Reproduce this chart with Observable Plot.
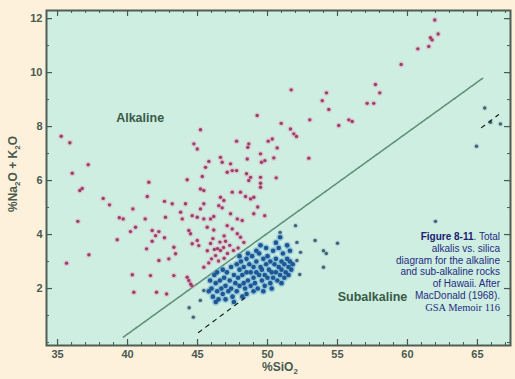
<!DOCTYPE html>
<html>
<head>
<meta charset="utf-8">
<script src="https://cdn.jsdelivr.net/npm/d3@7"></script>
<script src="https://cdn.jsdelivr.net/npm/@observablehq/plot@0.6"></script>
<style>
  html, body { margin: 0; padding: 0; background: #fdf1dc; }
  #wrap { position: relative; width: 515px; height: 379px; overflow: hidden; font-family: "Liberation Sans", Arial, sans-serif; }
  #chart svg { display: block; }
  .axt { position: absolute; color: #4a5a50; font-weight: bold; font-size: 12px; white-space: nowrap; }
  .axt sub { font-size: 8px; }
  #ylab { left: 14px; top: 174px; transform: translate(-50%, -50%) rotate(-90deg); }
  #xlab { left: 280px; top: 368px; transform: translate(-50%, -50%); }
  #caption { position: absolute; right: 15px; top: 231px; text-align: right; color: #262a84; font-size: 10px; line-height: 11.8px; }
  #caption b { color: #1c2070; }
  #caption .serif { font-family: "Liberation Serif", "Times New Roman", serif; font-size: 10.5px; }
</style>
</head>
<body>
<div id="wrap">
  <div id="chart"></div>
  <div id="ylab" class="axt">%Na<sub>2</sub>O + K<sub>2</sub>O</div>
  <div id="xlab" class="axt">%SiO<sub>2</sub></div>
  <div id="caption"><b>Figure 8-11</b>. Total<br>alkalis vs. silica<br>diagram for the alkaline<br>and sub-alkaline rocks<br>of Hawaii. After<br>MacDonald (1968).<br><span class="serif">GSA Memoir 116</span></div>
</div>
<script>
// ---- data (SiO2 %, Na2O+K2O %) ----
const alkaline = [
  [35.26,7.64],[35.88,7.40],[37.19,6.59],[36.05,6.27],[36.76,5.71],[36.59,5.63],[41.52,5.94],[41.41,5.41],
  [38.26,5.34],[38.71,5.10],[42.64,5.23],[40.38,4.95],[42.71,4.64],[36.45,4.49],[39.41,4.62],[39.69,4.58],
  [41.26,4.58],[40.57,4.27],[40.21,4.11],[41.76,4.15],[42.24,4.11],[42.0,3.96],[41.76,3.75],[42.64,3.88],
  [39.26,3.81],[41.36,3.47],[37.24,3.25],[35.64,2.94],[42.24,3.04],[42.95,3.10],[40.34,2.51],[41.64,2.48],
  [40.45,1.86],[42.07,1.86],[42.79,1.80],[43.31,2.48],[43.43,3.29],[43.19,5.14],[43.79,4.83],[44.14,5.14],
  [44.62,4.70],[44.38,4.15],[44.62,3.66],[45.21,4.95],[45.45,4.58],[44.38,2.30],[44.6,2.10],
  [51.69,9.36],[54.21,9.25],[53.91,8.96],[54.38,8.63],[57.71,9.56],[58.02,9.25],[57.12,8.86],[57.59,8.86],
  [59.55,10.30],[53.02,8.25],[50.98,8.12],[55.81,8.25],[56.05,8.19],[55.09,8.04],[51.64,7.91],[51.88,7.73],
  [52.07,7.63],[50.34,7.54],[50.69,7.21],[50.45,6.84],[52.95,6.83],[50.62,6.10],[61.95,11.95],[62.19,11.43],
  [61.64,11.29],[61.76,11.21],[60.74,10.88],[61.52,10.97],[49.26,8.41],[50.05,7.46],[49.5,6.99],[49.57,6.68],
  [49.81,6.74],[49.5,6.12],[49.5,5.90],[45.21,7.88],[44.74,7.36],[44.98,7.17],[47.79,7.46],[48.66,7.36],
  [48.59,7.23],[46.64,6.86],[46.76,6.68],[45.81,6.71],[45.57,6.49],[48.55,6.80],[47.12,6.31],[47.48,6.37],
  [47.79,6.37],[48.5,6.25],[48.79,6.12],[48.66,6.0],[45.34,6.15],[44.26,6.03],[49.5,5.75],[45.21,5.69],
  [45.45,5.63],[46.64,5.38],[46.88,5.26],[46.52,5.07],[46.76,4.99],[47.48,5.57],[48.07,5.57],[48.43,5.41],
  [48.79,5.32],[49.02,5.38],[45.45,5.14],[43.91,4.58],[44.98,4.64],[45.93,4.58],[46.16,4.67],[47.36,4.77],
  [47.84,4.58],[48.19,4.52],[49.02,4.77],[44.5,4.03],[45.69,4.27],[46.16,4.17],[47.12,4.33],[47.48,4.21],
  [43.31,3.53],[45.93,3.67],[46.43,3.48],[46.64,3.41],[46.86,3.52],[47.14,3.30],[46.29,3.22],[47.57,3.41],
  [44.98,3.78],[45.09,3.59],[48.07,3.90],[48.31,3.71],[45.45,2.79],[44.26,2.42],[44.5,2.17],[47.84,4.03],
  [46.0,3.10],[46.9,3.12],[47.3,3.60],[46.6,3.72],[47.9,3.50],[47.36,6.62],[49.3,5.02],[49.8,4.70],
  [46.2,3.45],[46.5,3.02],[47.0,3.75],[45.7,3.40],[46.1,3.85],[46.9,3.95],[45.8,2.95]
];
const subalkalineCluster = [
  [45.9,2.3],[46.0,2.0],[46.1,1.7],[46.2,2.5],[46.3,2.2],[46.4,1.9],[46.4,2.6],[46.5,1.6],[46.6,2.3],[46.7,2.0],
  [46.8,2.7],[46.8,1.8],[46.9,2.4],[47.0,2.1],[47.0,1.6],[47.1,2.6],[47.2,1.9],[47.3,2.3],[47.4,2.0],[47.4,2.8],
  [47.5,1.7],[47.6,2.5],[47.7,2.2],[47.8,1.9],[47.8,2.9],
  [47.9,2.4],[48.0,2.7],[48.0,2.1],[48.1,3.0],[48.2,2.5],[48.3,2.2],[48.3,2.8],[48.4,2.0],[48.5,2.6],[48.5,3.1],
  [48.6,2.3],[48.7,2.9],[48.8,2.1],[48.8,2.6],[48.9,3.2],[49.0,2.4],[49.0,2.8],[49.1,2.2],[49.2,2.6],[49.2,3.0],
  [49.3,2.0],[49.4,2.5],[49.4,3.3],[49.5,2.8],[49.6,2.3],[49.6,2.7],[49.7,3.1],[49.8,2.5],[49.8,2.1],[49.9,2.9],
  [50.0,2.4],[50.0,3.2],[50.1,2.7],[50.2,2.2],[50.2,3.0],[50.3,2.6],[50.4,3.4],[50.4,2.4],[50.5,2.9],[50.6,2.6],
  [50.6,3.1],[50.7,2.3],[50.8,2.8],[50.8,3.5],[50.9,2.5],[51.0,3.0],[51.0,2.7],[51.1,3.3],[51.2,2.4],[51.2,2.9],
  [51.3,2.6],[51.4,3.1],[51.5,2.8],[51.5,2.5],[51.6,3.0],[51.7,2.7],[51.8,2.9],[51.4,3.6],[50.6,3.7],[49.9,3.5],
  [49.2,3.4],[48.6,3.3],[48.0,3.2],[50.3,2.0],[49.0,1.9],[48.5,1.8],[51.0,2.2],[49.7,1.9],[48.2,1.7],[47.6,1.5],
  [46.3,1.5],[45.8,1.9],[50.9,3.9],[51.6,3.4],[49.5,3.6]
];
const subalkalineScatter = [
  [52.0,4.33],[52.1,3.71],[52.36,3.34],[52.1,3.04],[53.4,3.78],[54.0,3.40],[54.2,3.30],[55.0,3.68],
  [54.0,2.79],[52.3,2.52],[50.9,4.08],[44.7,0.94],[44.4,1.29],[45.45,1.93],[45.2,1.56],[62.0,4.49],
  [65.52,8.69],[65.93,8.16],[66.64,8.10],[64.93,7.27]
];
const boundaryLine = [[39.7,0.2],[65.4,9.8]];
const dashLow = [[45.07,0.37],[48.43,1.67]];
const dashHigh = [[65.29,7.96],[66.5,8.44]];
const fieldLabels = [
  {x: 40.9, y: 8.33, text: "Alkaline"},
  {x: 57.5, y: 1.67, text: "Subalkaline"}
];
const majorX = [35, 40, 45, 50, 55, 60, 65];
const minorX = d3.range(35, 68, 1);
const majorY = [2, 4, 6, 8, 10, 12];
const minorY = d3.range(0, 13, 1);

const axisColor = "#4a5a50";
const innerH = 379 - 10 - 34;
const innerW = 515 - 46 - 5;

const chart = Plot.plot({
  width: 515,
  height: 379,
  marginLeft: 46,
  marginRight: 5,
  marginTop: 10,
  marginBottom: 34,
  style: {background: "transparent", fontFamily: "'Liberation Sans', Arial, sans-serif"},
  x: {domain: [34.21, 67.36]},
  y: {domain: [-0.11, 12.3]},
  marks: [
    Plot.frame({fill: "#cdeee0", stroke: null}),
    // inward ticks (bottom / top)
    Plot.ruleX(minorX, {x: d => d, stroke: axisColor, strokeWidth: 1, insetTop: innerH - 3}),
    Plot.ruleX(majorX, {x: d => d, stroke: axisColor, strokeWidth: 1.2, insetTop: innerH - 6}),
    Plot.ruleX(minorX, {x: d => d, stroke: axisColor, strokeWidth: 1, insetBottom: innerH - 3}),
    Plot.ruleX(majorX, {x: d => d, stroke: axisColor, strokeWidth: 1.2, insetBottom: innerH - 6}),
    // inward ticks (left / right)
    Plot.ruleY(minorY, {y: d => d, stroke: axisColor, strokeWidth: 1, insetRight: innerW - 3}),
    Plot.ruleY(majorY, {y: d => d, stroke: axisColor, strokeWidth: 1.2, insetRight: innerW - 6}),
    Plot.ruleY(minorY, {y: d => d, stroke: axisColor, strokeWidth: 1, insetLeft: innerW - 3}),
    Plot.ruleY(majorY, {y: d => d, stroke: axisColor, strokeWidth: 1.2, insetLeft: innerW - 6}),
    // boundary line
    Plot.line(boundaryLine, {x: d => d[0], y: d => d[1], stroke: "#5f917a", strokeWidth: 1.6, strokeDasharray: "2.5,1.2"}),
    // points
    Plot.dot(alkaline, {x: d => d[0], y: d => d[1], r: 2.9, fill: "#eaa3c4", fillOpacity: 0.5, stroke: null}),
    Plot.dot(subalkalineCluster, {x: d => d[0], y: d => d[1], r: 3.7, fill: "#74b3da", fillOpacity: 0.55, stroke: null}),
    Plot.dot(alkaline, {x: d => d[0], y: d => d[1], r: 1.7, fill: "#9a4068", stroke: null}),
    Plot.dot(subalkalineCluster, {x: d => d[0], y: d => d[1], r: 2.3, fill: "#1d5690", stroke: null}),
    Plot.dot(subalkalineScatter, {x: d => d[0], y: d => d[1], r: 2.7, fill: "#9cc3d6", fillOpacity: 0.5, stroke: null}),
    Plot.dot(subalkalineScatter, {x: d => d[0], y: d => d[1], r: 1.7, fill: "#45606f", stroke: null}),
    // dashed extensions
    Plot.line(dashLow, {x: d => d[0], y: d => d[1], stroke: "#111", strokeWidth: 1.1, strokeDasharray: "4,5"}),
    Plot.line(dashHigh, {x: d => d[0], y: d => d[1], stroke: "#111", strokeWidth: 1.1, strokeDasharray: "4,5"}),
    // field labels
    Plot.text(fieldLabels, {x: "x", y: "y", text: "text", fill: "#3a5a48", fontSize: 12.5, fontWeight: "bold"}),
    // tick labels
    Plot.axisX(majorX, {anchor: "bottom", tickSize: 0, tickPadding: 5, fontSize: 11, fontWeight: "bold", fill: axisColor, label: null}),
    Plot.axisY(majorY, {anchor: "left", tickSize: 0, tickPadding: 4, fontSize: 11, fontWeight: "bold", fill: axisColor, label: null}),
    Plot.frame({stroke: "#4e5e54", strokeWidth: 2})
  ]
});
document.getElementById("chart").appendChild(chart);
</script>
</body>
</html>
